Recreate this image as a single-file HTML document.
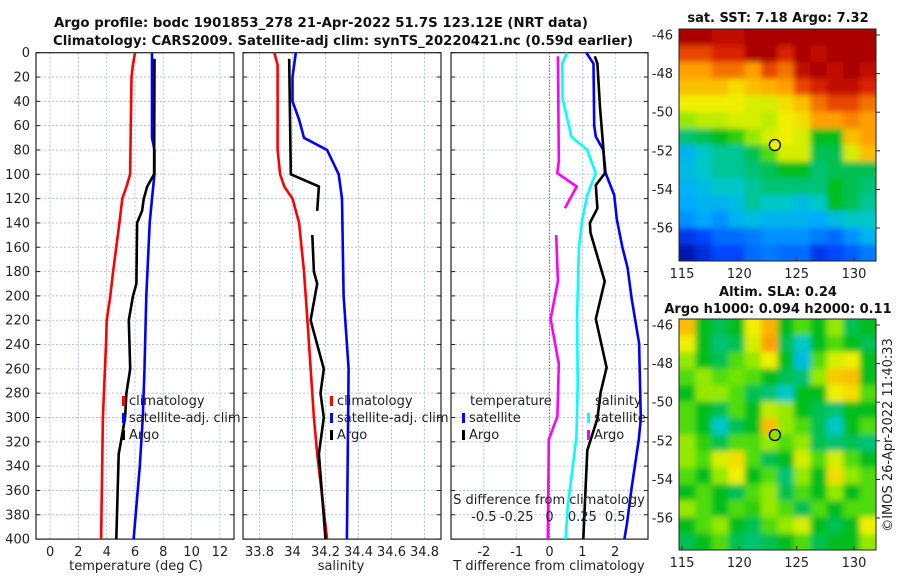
<!DOCTYPE html>
<html><head><meta charset="utf-8"><style>
body{margin:0;background:#fff;}
svg{display:block;font-family:"DejaVu Sans","Liberation Sans",sans-serif;}
.t{font-size:13px;fill:#222;}
.ttl{font-size:13px;font-weight:bold;fill:#111;}
</style></head><body>
<svg id="c" width="900" height="580" viewBox="0 0 900 580" xmlns="http://www.w3.org/2000/svg">
<defs>
<filter id="bl" x="0" y="0" width="1" height="1"><feGaussianBlur stdDeviation="3"/></filter>
<clipPath id="c1"><rect x="679" y="29" width="197" height="232"/></clipPath>
<clipPath id="c2"><rect x="679" y="319" width="197" height="231"/></clipPath>
</defs>
<text class="ttl" x="321" y="27" text-anchor="middle" textLength="534" lengthAdjust="spacingAndGlyphs">Argo profile: bodc 1901853_278 21-Apr-2022 51.7S 123.12E (NRT data)</text>
<text class="ttl" x="343" y="45" text-anchor="middle" textLength="580" lengthAdjust="spacingAndGlyphs">Climatology: CARS2009. Satellite-adj clim: synTS_20220421.nc (0.59d earlier)</text>
<text class="ttl" x="778" y="22" text-anchor="middle">sat. SST: 7.18 Argo: 7.32</text>
<text class="ttl" x="778" y="296" text-anchor="middle">Altim. SLA: 0.24</text>
<text class="ttl" x="778" y="313" text-anchor="middle">Argo h1000: 0.094 h2000: 0.11</text>
<text class="t" transform="translate(892,435) rotate(-90)" text-anchor="middle">©IMOS 26-Apr-2022 11:40:33</text>
<g id="m1" clip-path="url(#c1)"><g id="m1b" filter="url(#bl)"></g></g>
<g id="m2" clip-path="url(#c2)"><g id="m2b" filter="url(#bl)"></g></g>
<g id="g"></g>
</svg>
<script>
// ---- depth axis ----
const depthTicks=[0,20,40,60,80,100,120,140,160,180,200,220,240,260,280,300,320,340,360,380,400];
// ---- temperature panel ----
const tTicks=[0,2,4,6,8,10,12];
const tClimD=[0,10,20,100,110,120,140,180,200,220,240,280,300,400];
const tClimV=[6.0,5.85,5.75,5.65,5.4,5.1,4.9,4.45,4.25,4.0,3.95,3.8,3.73,3.6];
const tSatD=[0,70,80,100,120,140,200,260,300,340,400];
const tSatV=[7.2,7.2,7.38,7.38,7.2,7.04,6.8,6.67,6.55,6.34,5.9];
const tArgoD=[5,100,110,120,130,140,190,200,220,260,280,300,320,330,400];
const tArgoV=[7.38,7.35,6.86,6.62,6.5,6.15,6.1,5.86,5.56,5.66,5.39,5.3,5.0,4.85,4.68];
// ---- salinity panel ----
const sTicks=[33.8,34,34.2,34.4,34.6,34.8];
const sClimD=[0,10,80,100,110,120,140,180,220,300,330,400];
const sClimV=[33.89,33.91,33.91,33.925,33.95,34.0,34.04,34.07,34.09,34.13,34.15,34.21];
const sSatD=[0,20,40,55,70,80,100,120,200,260,400];
const sSatV=[34.02,34.0,34.0,34.04,34.07,34.21,34.28,34.3,34.31,34.34,34.33];
const sArgoD1=[5,100,110,130];
const sArgoV1=[33.98,33.99,34.16,34.15];
const sArgoD2=[150,180,190,220,260,280,300,330,400];
const sArgoV2=[34.12,34.13,34.15,34.11,34.19,34.17,34.19,34.16,34.2];
// ---- difference panel ----
const dTTicks=[-2,-1,0,1,2];
const dSTicks=[-0.5,-0.25,0,0.25,0.5];
const dSTickLabels=["-0.5","-0.25","0","0.25","0.5"];
const dTSatD=[0,9,60,69,80,99,117,137,160,177,202,239,301,318,358,387,400];
const dTSatV=[1.12,1.34,1.36,1.41,1.64,1.71,1.97,2.05,2.22,2.38,2.5,2.73,2.78,2.72,2.5,2.36,2.28];
const dTArgoD=[3,9,46,75,99,109,128,140,148,188,219,259,279,301,327,400];
const dTArgoV=[1.38,1.46,1.54,1.63,1.69,1.41,1.46,1.23,1.25,1.68,1.41,1.74,1.56,1.46,1.15,1.03];
const dSSatD=[0,9,38,60,69,80,99,117,137,160,216,273,316,344,372,400];
const dSSatV=[0.135,0.097,0.1,0.148,0.166,0.288,0.352,0.288,0.25,0.224,0.21,0.215,0.205,0.173,0.14,0.122];
const dSArgoD1=[3,89,99,110,128];
const dSArgoV1=[0.064,0.071,0.059,0.207,0.117];
const dSArgoD2=[150,188,219,256,299,318,400];
const dSArgoV2=[0.051,0.064,0.008,0.071,0.06,-0.005,-0.013];
// ---- maps ----
const lonTicks=[115,120,125,130];
const latTicks=[-46,-48,-50,-52,-54,-56];
const sstGrid=[
[1,1,.95,.95,1,1,1,1,1,1,1,1],
[.85,.85,.9,.9,1,1,.9,1,.95,1,1,1],
[.75,.75,.8,.8,.75,.85,.8,.95,1,.95,1,.95],
[.7,.7,.7,.65,.7,.72,.75,.85,.9,.95,.95,.9],
[.62,.62,.62,.62,.6,.6,.65,.7,.8,.85,.85,.8],
[.55,.58,.58,.6,.6,.58,.62,.65,.75,.75,.78,.75],
[.4,.42,.45,.48,.55,.6,.62,.6,.45,.45,.7,.75],
[.3,.35,.38,.38,.42,.5,.6,.6,.42,.42,.6,.7],
[.32,.35,.38,.38,.4,.42,.45,.45,.4,.42,.42,.42],
[.3,.32,.35,.35,.38,.4,.4,.4,.4,.45,.42,.4],
[.28,.3,.3,.32,.38,.35,.35,.32,.35,.45,.42,.38],
[.25,.28,.25,.3,.32,.3,.3,.3,.28,.32,.35,.35],
[.12,.15,.2,.2,.22,.25,.25,.25,.22,.2,.25,.3],
[.05,.1,.15,.15,.2,.22,.2,.2,.12,.15,.18,.22]];
const slaGrid=[
[.7,.45,.42,.45,.62,.72,.45,.5,.45,.55,.42,.45],
[.62,.45,.4,.42,.6,.75,.42,.35,.45,.5,.45,.42],
[.55,.45,.42,.5,.55,.62,.45,.32,.5,.6,.62,.45],
[.5,.55,.5,.52,.5,.45,.42,.4,.55,.68,.7,.45],
[.45,.55,.55,.5,.42,.4,.35,.45,.45,.62,.65,.5],
[.5,.45,.42,.5,.45,.58,.55,.45,.42,.4,.45,.45],
[.5,.45,.35,.42,.45,.7,.55,.5,.42,.35,.45,.5],
[.55,.48,.42,.5,.5,.55,.5,.55,.42,.4,.42,.4],
[.55,.5,.6,.65,.5,.42,.45,.6,.5,.6,.5,.45],
[.5,.45,.55,.62,.45,.5,.4,.55,.45,.65,.55,.5],
[.45,.5,.45,.42,.5,.55,.42,.5,.45,.55,.45,.5],
[.55,.5,.45,.5,.48,.55,.5,.42,.5,.45,.5,.5],
[.45,.5,.55,.45,.42,.5,.55,.6,.45,.42,.45,.62],
[.42,.45,.5,.42,.4,.42,.45,.5,.42,.45,.45,.55]];
const argoLon=123.1, argoLat=-51.7;

const NS="http://www.w3.org/2000/svg";
const G=document.getElementById('g');
function mk(tag,at,parent){const e=document.createElementNS(NS,tag);for(const k in at)e.setAttribute(k,at[k]);(parent||G).appendChild(e);return e;}
function txt(s,x,y,anchor,extra){const e=mk('text',Object.assign({x:x,y:y,'text-anchor':anchor||'middle',class:'t'},extra||{}));e.textContent=s;return e;}

const yTop=52.7, yPx=1.216, yBot=yTop+400*yPx;
const Y=d=>yTop+d*yPx;
const P1={l:36,r:234,x:v=>36+(v+1)*(198/14)};
const P2={l:243,r:441,x:v=>243+(v-33.7)*165};
const P3={l:451,r:648,x:v=>451+(v+3)*(197/6)};
const xS3=v=>451+(v+0.75)*(197/1.5);

function panelFrame(P,ticks,fmt,name){
  depthTicks.forEach(d=>{const l=mk('line',{x1:P.l,x2:P.r,y1:Y(d),y2:Y(d),stroke:'#b8c0e4','stroke-width':1,'stroke-dasharray':'2,2'});
    
    const t1=mk('line',{x1:P.l,x2:P.l+4,y1:Y(d),y2:Y(d),stroke:'#222'});
    const t2=mk('line',{x1:P.r-4,x2:P.r,y1:Y(d),y2:Y(d),stroke:'#222'});});
  ticks.forEach((v,i)=>{const x=P.x(v);
    const l=mk('line',{x1:x,x2:x,y1:yTop,y2:yBot,stroke:'#b8c0e4','stroke-width':1,'stroke-dasharray':'2,2'});
    
    const t=txt(fmt(v,i),x,yBot+17);});
  const r=mk('rect',{x:P.l,y:yTop,width:P.r-P.l,height:yBot-yTop,fill:'none',stroke:'#222','stroke-width':1.2});
  
}
function line(P,xf,D,V,color,name){
  const pts=D.map((d,i)=>xf(V[i]).toFixed(1)+','+Y(d).toFixed(1)).join(' ');
  const e=mk('polyline',{points:pts,fill:'none',stroke:color,'stroke-width':2.6,'stroke-linejoin':'round'});
  
}
function legendEntry(x,y,color,label,name){
  const m=mk('rect',{x:x,y:y-9,width:3,height:10,fill:color});
  
  const t=txt(label,x+7,y,'start');
}

// Panel 1
panelFrame(P1,tTicks,v=>String(v),'temperature-panel');
depthTicks.forEach(d=>{const t=txt(String(d),30,Y(d)+4.5,'end');});
line(P1,P1.x,tClimD,tClimV,'#ff0000','temperature-climatology-line');
line(P1,P1.x,tSatD,tSatV,'#0000ff','temperature-satellite-adj-line');
line(P1,P1.x,tArgoD,tArgoV,'#000000','temperature-argo-line');
{const t=txt('temperature (deg C)',136,570);}
legendEntry(122,405,'#ff0000','climatology','legend-temp-climatology');
legendEntry(122,422,'#0000ff','satellite-adj. clim','legend-temp-satellite-adj');
legendEntry(122,439,'#000000','Argo','legend-temp-argo');

// Panel 2
panelFrame(P2,sTicks,v=>String(v),'salinity-panel');
line(P2,P2.x,sClimD,sClimV,'#ff0000','salinity-climatology-line');
line(P2,P2.x,sSatD,sSatV,'#0000ff','salinity-satellite-adj-line');
line(P2,P2.x,sArgoD1,sArgoV1,'#000000','salinity-argo-line-upper');
line(P2,P2.x,sArgoD2,sArgoV2,'#000000','salinity-argo-line-lower');
{const t=txt('salinity',341,570);}
legendEntry(330,405,'#ff0000','climatology','legend-sal-climatology');
legendEntry(330,422,'#0000ff','satellite-adj. clim','legend-sal-satellite-adj');
legendEntry(330,439,'#000000','Argo','legend-sal-argo');

// Panel 3
panelFrame(P3,dTTicks,v=>String(v),'difference-panel');
{const z=mk('line',{x1:P3.x(0),x2:P3.x(0),y1:yTop,y2:yBot,stroke:'#555','stroke-width':1,'stroke-dasharray':'1,2'});}
line(P3,P3.x,dTSatD,dTSatV,'#0000ff','temp-diff-satellite-line');
line(P3,P3.x,dTArgoD,dTArgoV,'#000000','temp-diff-argo-line');
line(P3,xS3,dSSatD,dSSatV,'#00ffff','sal-diff-satellite-line');
line(P3,xS3,dSArgoD1,dSArgoV1,'#ff00ff','sal-diff-argo-line-upper');
line(P3,xS3,dSArgoD2,dSArgoV2,'#ff00ff','sal-diff-argo-line-lower');
{const t=txt('T difference from climatology',549,570);}
{const t=txt('S difference from climatology',549,504);}
dSTicks.forEach((v,i)=>{const t=txt(dSTickLabels[i],xS3(v),521);});
{const t=txt('temperature',470,405,'start');}
{const t=txt('salinity',595,405,'start');}
legendEntry(462,422,'#0000ff','satellite','legend-tdiff-satellite');
legendEntry(462,439,'#000000','Argo','legend-tdiff-argo');
legendEntry(587,422,'#00ffff','satellite','legend-sdiff-satellite');
legendEntry(587,439,'#ff00ff','Argo','legend-sdiff-argo');

// maps
const cmStops=[[0,[0,0,140]],[.15,[0,70,255]],[.28,[0,170,255]],[.35,[0,200,200]],[.45,[0,190,30]],[.52,[110,230,0]],[.62,[240,240,0]],[.75,[255,160,0]],[.88,[225,40,0]],[1,[170,0,0]]];
function cmap(v){v=Math.max(0,Math.min(1,v));
  for(let i=1;i<cmStops.length;i++){if(v<=cmStops[i][0]){const a=cmStops[i-1],b=cmStops[i],f=(v-a[0])/(b[0]-a[0]);
    return 'rgb('+a[1].map((c,k)=>Math.round(c+(b[1][k]-c)*f)).join(',')+')';}}
  return 'rgb(170,0,0)';}
function map(grid,top,bot,name,lat0Px,layer){
  const L=679,R=876;
  const lonX=lo=>682+(lo-115)*(172/15);
  const latY=la=>lat0Px+(-46-la)*19.3;
  const rows=grid.length,cols=grid[0].length,cw=(R-L)/cols,ch=(bot-top)/rows;
  const bg=mk('rect',{x:L-10,y:top-10,width:R-L+20,height:bot-top+20,fill:cmap(grid[0][0])},layer);
  
  grid.forEach((row,i)=>row.forEach((v,j)=>{
    const x0=L+j*cw-(j===0?10:0),y0=top+i*ch-(i===0?10:0);
    const w=cw+0.6+(j===0?10:0)+(j===cols-1?10:0),h=ch+0.6+(i===0?10:0)+(i===rows-1?10:0);
    const c=mk('rect',{x:x0.toFixed(2),y:y0.toFixed(2),width:w.toFixed(2),height:h.toFixed(2),fill:cmap(v)},layer);
    }));
  const f=mk('rect',{x:L,y:top,width:R-L,height:bot-top,fill:'none',stroke:'#222','stroke-width':1});
  
  lonTicks.forEach(lo=>{const t=txt(String(lo),lonX(lo),bot+17);
    const k=mk('line',{x1:lonX(lo),x2:lonX(lo),y1:bot,y2:bot-4,stroke:'#222'});});
  latTicks.forEach(la=>{const t=txt(String(la),673,latY(la)+4.5,'end');
    const k=mk('line',{x1:R,x2:R+4,y1:latY(la),y2:latY(la),stroke:'#222'});});
  const c=mk('circle',{cx:lonX(argoLon),cy:latY(argoLat),r:5.5,fill:name==='sla-map'?'#8fe000':'#e8f000',stroke:'#000','stroke-width':1.3});
  
}
map(sstGrid,29,261,'sst-map',35,document.getElementById('m1b'));
map(slaGrid,319,550,'sla-map',325,document.getElementById('m2b'));
</script>
</body></html>
